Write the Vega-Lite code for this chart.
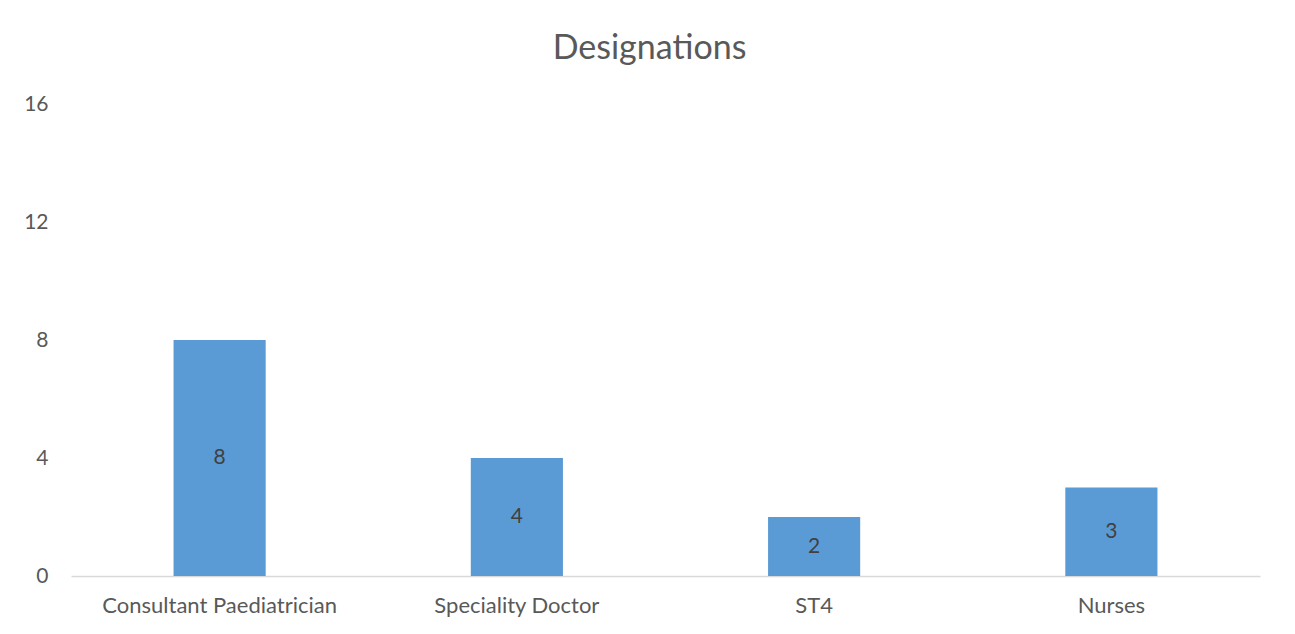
{
  "$schema": "https://vega.github.io/schema/vega-lite/v6.json",
  "autosize": {"type": "none"},
  "width": 1189,
  "height": 472,
  "padding": {"left": 71, "top": 104, "right": 35, "bottom": 58},
  "background": "white",
  "title": {
    "text": "Designations",
    "font": "Lato",
    "fontSize": 34,
    "fontWeight": "normal",
    "color": "#595959",
    "anchor": "middle",
    "dx": -16,
    "offset": 27
  },
  "data": {
    "values": [
      {"designation": "Consultant Paediatrician", "count": 8},
      {"designation": "Speciality Doctor", "count": 4},
      {"designation": "ST4", "count": 2},
      {"designation": "Nurses", "count": 3}
    ]
  },
  "config": {
    "view": {"stroke": null},
    "axis": {"labelFont": "Lato", "labelColor": "#595959", "labelFontSize": 21, "labelLimit": 0}
  },
  "layer": [
    {
      "mark": {"type": "bar", "color": "#5b9bd5"},
      "encoding": {
        "x": {
          "field": "designation",
          "type": "nominal",
          "sort": null,
          "scale": {"paddingInner": 0.69, "paddingOuter": 0.345},
          "axis": {
            "title": null,
            "labelAngle": 0,
            "ticks": false,
            "domainColor": "#d9d9d9",
            "domainWidth": 1.5,
            "labelPadding": 19,
            "labelFontSize": 22
          }
        },
        "y": {
          "field": "count",
          "type": "quantitative",
          "scale": {"domain": [0, 16]},
          "axis": {
            "title": null,
            "values": [0, 4, 8, 12, 16],
            "grid": false,
            "domain": false,
            "ticks": false,
            "labelPadding": 23
          }
        }
      }
    },
    {
      "mark": {"type": "text", "color": "#404040", "font": "Lato", "fontSize": 21, "baseline": "middle"},
      "encoding": {
        "x": {"field": "designation", "type": "nominal", "sort": null},
        "y": {"field": "count", "type": "quantitative", "scale": {"domain": [0, 32]}, "axis": null},
        "text": {"field": "count", "type": "quantitative"}
      }
    }
  ],
  "resolve": {"scale": {"y": "independent"}}
}
